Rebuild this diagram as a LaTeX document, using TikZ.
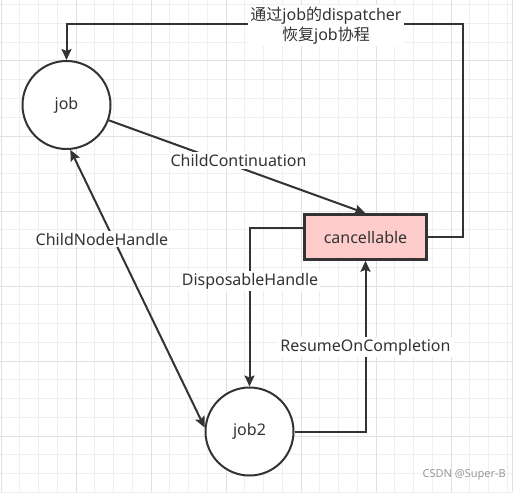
\documentclass[tikz,border=0pt]{standalone}
\usepackage{fontspec}
\setmainfont{Noto Sans}
\newfontfamily\cjkfont{Noto Sans CJK SC}
\usetikzlibrary{arrows.meta}
\definecolor{ink}{HTML}{333333}
\definecolor{pinkfill}{HTML}{FFCCCC}
\definecolor{gridminor}{HTML}{EFEFEF}
\definecolor{gridmajor}{HTML}{E0E0E0}
\tikzset{
  circ/.style={circle, draw=ink, line width=2pt, fill=white, minimum size=88pt, inner sep=0pt, text=ink, font=\fontsize{16}{18}\selectfont},
  boxnode/.style={rectangle, draw=ink, line width=2.5pt, fill=pinkfill, minimum width=122pt, minimum height=45pt, inner sep=0pt, text=ink, font=\fontsize{16}{18}\selectfont},
  edge/.style={draw=ink, line width=2pt, -{Stealth[length=11pt, width=10pt, inset=2pt]}},
  dedge/.style={draw=ink, line width=2pt, {Stealth[length=11pt, width=10pt, inset=2pt]}-{Stealth[length=11pt, width=10pt, inset=2pt]}},
  lbl/.style={fill=white, text=ink, inner sep=2pt, font=\fontsize{16}{18}\selectfont},
}
\begin{document}
\begin{tikzpicture}[x=1pt, y=-1pt]
\useasboundingbox (0,0) rectangle (521,492);
\fill[white] (0,0) rectangle (521,492);
% grid
\foreach \k in {0,...,27} {
  \pgfmathsetmacro{\xx}{1+18.75*\k}
  \draw[gridminor, line width=1pt] (\xx,0) -- (\xx,492);
}
\foreach \k in {0,...,26} {
  \pgfmathsetmacro{\yy}{4.75+18.75*\k}
  \draw[gridminor, line width=1pt] (0,\yy) -- (512,\yy);
}
\foreach \k in {0,4,...,24} {
  \pgfmathsetmacro{\xx}{1+18.75*\k}
  \draw[gridmajor, line width=1pt] (\xx,0) -- (\xx,492);
}
\draw[gridmajor, line width=1pt] (512,0) -- (512,492);
\foreach \k in {3,7,...,23} {
  \pgfmathsetmacro{\yy}{4.75+18.75*\k}
  \draw[gridmajor, line width=1pt] (0,\yy) -- (512,\yy);
}
% nodes
\node[circ] (job) at (66.5,105) {job};
\node[circ] (job2) at (249.5,431.5) {job2};
\node[boxnode] (canc) at (365.5,237) {cancellable};
\coordinate (tr) at (463,24);
\coordinate (dh) at (249.5,228);
% connectors
\draw[edge] (canc.east) -| (tr) -| (job.north);
\node[lbl, align=center, font=\fontsize{16}{20.5}\selectfont] (toplbl) at (326,25.5) {{\cjkfont 通过}job{\cjkfont 的}dispatcher\\{\cjkfont 恢复}job{\cjkfont 协程}};
\draw[edge] (job) -- (canc.north);
\node[lbl] (cc) at (238.5,160.5) {ChildContinuation};
\draw[dedge] (job.-85) -- (job2.175);
\node[lbl] (cnh) at (102,239) {ChildNodeHandle};
\draw[edge] ([yshift=9pt]canc.west) -- (dh) -- (job2.north);
\node[lbl] (dhl) at (250,281) {DisposableHandle};
\draw[edge] (job2.east) -| (canc.south);
\node[lbl] (roc) at (365.5,347) {ResumeOnCompletion};
\node[text=gray!80, font=\fontsize{11}{13}\selectfont, inner sep=0pt, anchor=east] (wm) at (506,475) {CSDN @Super-B};
\end{tikzpicture}
\end{document}
